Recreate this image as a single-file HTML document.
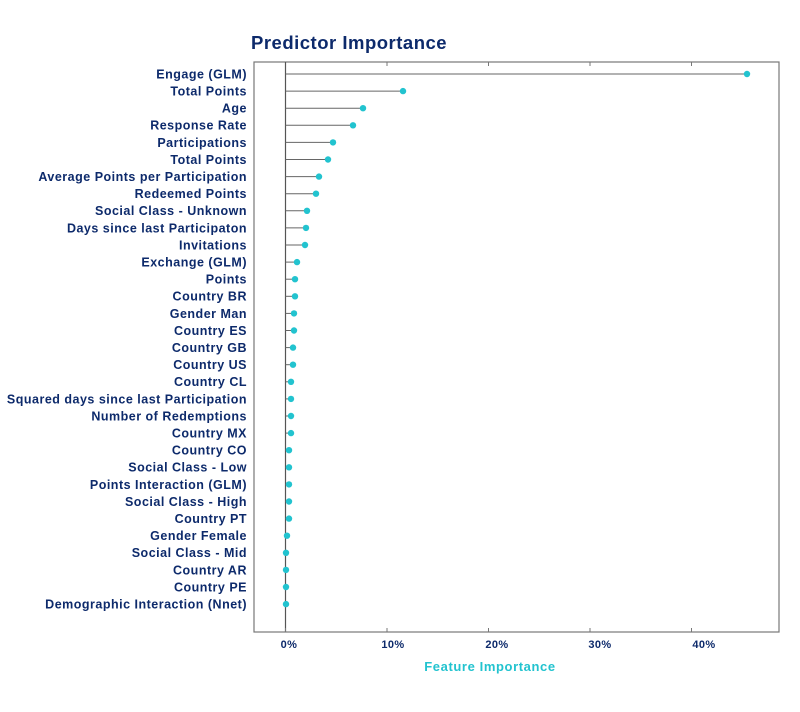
<!DOCTYPE html>
<html><head><meta charset="utf-8"><style>
body{margin:0;background:#fff;}
svg{display:block;font-family:"Liberation Sans",sans-serif;font-weight:bold;}
</style></head><body>
<svg width="800" height="712" viewBox="0 0 800 712">
<text x="251" y="49" font-size="18.5" letter-spacing="0.5" fill="#0d2a6b">Predictor Importance</text>
<rect x="254" y="62" width="525" height="570" fill="none" stroke="#777" stroke-width="1.2"/>
<line x1="285.5" y1="62" x2="285.5" y2="632" stroke="#555" stroke-width="1.2"/>
<g stroke="#777" stroke-width="1">
<line x1="387" y1="62" x2="387" y2="66"/><line x1="488.5" y1="62" x2="488.5" y2="66"/>
<line x1="590" y1="62" x2="590" y2="66"/><line x1="691.5" y1="62" x2="691.5" y2="66"/>
<line x1="285.5" y1="632" x2="285.5" y2="628"/><line x1="387" y1="632" x2="387" y2="628"/><line x1="488.5" y1="632" x2="488.5" y2="628"/>
<line x1="590" y1="632" x2="590" y2="628"/><line x1="691.5" y1="632" x2="691.5" y2="628"/>
</g>
<g font-size="11" letter-spacing="0.4" fill="#0d2a6b" text-anchor="middle">
<text x="289" y="648">0%</text><text x="393" y="648">10%</text><text x="497" y="648">20%</text><text x="600" y="648">30%</text><text x="704" y="648">40%</text>
</g>
<text x="490" y="671" font-size="13" letter-spacing="0.6" fill="#22c3cf" text-anchor="middle">Feature Importance</text>
<g id="rows"></g>
</svg>
<script>
var labels=["Engage (GLM)","Total Points","Age","Response Rate","Participations","Total Points","Average Points per Participation","Redeemed Points","Social Class - Unknown","Days since last Participaton","Invitations","Exchange (GLM)","Points","Country BR","Gender Man","Country ES","Country GB","Country US","Country CL","Squared days since last Participation","Number of Redemptions","Country MX","Country CO","Social Class - Low","Points Interaction (GLM)","Social Class - High","Country PT","Gender Female","Social Class - Mid","Country AR","Country PE","Demographic Interaction (Nnet)"];
var xs=[747,403,363,353,333,328,319,316,307,306,305,297,295,295,294,294,293,293,291,291,291,291,289,289,289,289,289,287,286,286,286,286];
var g=document.getElementById("rows"),h="";
for(var i=0;i<32;i++){var y=74+i*17.1;
h+='<text x="247" y="'+(y+4.4)+'" font-size="12.5" letter-spacing="0.5" fill="#0d2a6b" text-anchor="end">'+labels[i]+'</text>';
if(xs[i]>289)h+='<line x1="285.5" y1="'+y+'" x2="'+xs[i]+'" y2="'+y+'" stroke="#666" stroke-width="1"/>';
h+='<circle cx="'+xs[i]+'" cy="'+y+'" r="3.2" fill="#22c3cf"/>';}
g.innerHTML=h;
</script>
</body></html>
